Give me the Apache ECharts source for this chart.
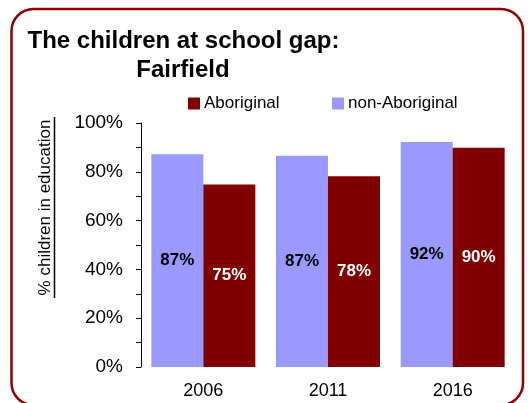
<!DOCTYPE html>
<html>
<head>
<meta charset="utf-8">
<script src="https://cdn.jsdelivr.net/npm/echarts@6/dist/echarts.min.js"></script>
<style>
html,body{margin:0;padding:0;background:#fff;}
#chart{width:531px;height:403px;}
</style>
</head>
<body>
<div id="chart"></div>
<script>
var categories = ['2006', '2011', '2016'];
var nonAboriginal = [87.2, 86.6, 92.2];
var aboriginal = [74.8, 78.2, 89.9];
var yTicks = [0, 20, 40, 60, 80, 100];
var titleLines = ['The children at school gap:', 'Fairfield'];
var yAxisTitle = '% children in education';

var chart = echarts.init(document.getElementById('chart'));
var sans = '"Liberation Sans", Arial, Helvetica, sans-serif';

chart.setOption({
  animation: false,
  backgroundColor: '#ffffff',
  grid: { left: 141, right: 16, top: 123, bottom: 36 },
  legend: [
    {
      data: ['Aboriginal'], left: 188, top: 95, padding: 0,
      itemWidth: 12, itemHeight: 12, itemGap: 0,
      icon: 'rect',
      textStyle: { fontFamily: sans, fontSize: 17, color: '#000', padding: [0,0,0,-1] }
    },
    {
      data: ['non-Aboriginal'], left: 332, top: 95, padding: 0,
      itemWidth: 12, itemHeight: 12, itemGap: 0,
      icon: 'rect',
      textStyle: { fontFamily: sans, fontSize: 17, color: '#000', padding: [0,0,0,-1] }
    }
  ],
  xAxis: {
    type: 'category',
    data: categories,
    axisLine: { show: false },
    axisTick: { show: false },
    axisLabel: { fontFamily: sans, fontSize: 18, color: '#000', margin: 15 }
  },
  yAxis: {
    type: 'value',
    min: yTicks[0], max: yTicks[yTicks.length - 1], interval: 20,
    axisLine: { show: true, lineStyle: { color: '#000', width: 1 } },
    axisTick: { show: true, inside: false, length: 5, lineStyle: { color: '#000' } },
    minorTick: { show: true, splitNumber: 2, length: 5, lineStyle: { color: '#000' } },
    splitLine: { show: false },
    axisLabel: { fontFamily: sans, fontSize: 19, color: '#000', margin: 18, formatter: '{value}%' }
  },
  series: [
    {
      name: 'non-Aboriginal', type: 'bar', data: nonAboriginal,
      barWidth: 52, barGap: '0%',
      itemStyle: { color: '#9999FF' },
      label: {
        show: true, position: 'inside',
        formatter: function (p) { return Math.round(p.value) + '%'; },
        fontFamily: sans, fontWeight: 'bold', fontSize: 17, color: '#000'
      }
    },
    {
      name: 'Aboriginal', type: 'bar', data: aboriginal,
      barWidth: 52, barGap: '0%',
      itemStyle: { color: '#800000' },
      label: {
        show: true, position: 'inside',
        formatter: function (p) { return Math.round(p.value) + '%'; },
        fontFamily: sans, fontWeight: 'bold', fontSize: 17, color: '#fff'
      }
    }
  ],
  graphic: [
    {
      type: 'rect', z: 100, silent: true,
      shape: { x: 11.5, y: 9, width: 511.5, height: 396, r: 22 },
      style: { fill: 'none', stroke: '#8B0000', lineWidth: 2.5 }
    },
    {
      type: 'text', x: 183.5, y: 41,
      style: { text: titleLines[0], fontFamily: sans, fontWeight: 'bold', fontSize: 24, fill: '#000', align: 'center', verticalAlign: 'middle' }
    },
    {
      type: 'text', x: 183, y: 70.5,
      style: { text: titleLines[1], fontFamily: sans, fontWeight: 'bold', fontSize: 24, fill: '#000', align: 'center', verticalAlign: 'middle' }
    },
    {
      type: 'text', x: 45, y: 207.5, rotation: Math.PI / 2,
      style: { text: yAxisTitle, fontFamily: sans, fontSize: 17, fill: '#000', align: 'center', verticalAlign: 'middle' }
    },
    {
      type: 'line',
      shape: { x1: 54.5, y1: 117, x2: 54.5, y2: 298 },
      style: { stroke: '#000', lineWidth: 1.5 }
    }
  ]
});
</script>
</body>
</html>
